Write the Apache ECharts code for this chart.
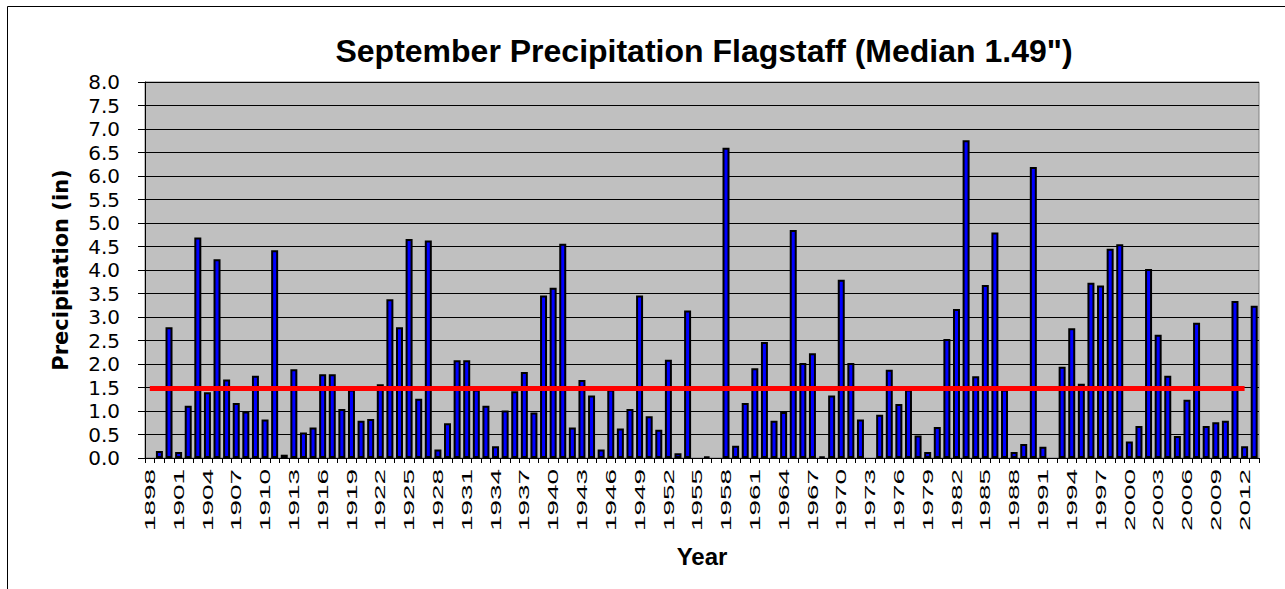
<!DOCTYPE html>
<html>
<head>
<meta charset="utf-8">
<title>September Precipitation Flagstaff</title>
<script src="https://cdn.jsdelivr.net/npm/echarts@6/dist/echarts.min.js"></script>
<style>
  html, body { margin: 0; padding: 0; background: #ffffff; }
  #chart { width: 1285px; height: 589px; }
</style>
</head>
<body>
<div id="chart"></div>
<script>
// Categories: one per year of record
const firstYear = 1898;
const lastYear = 2013;
const years = [];
for (let y = firstYear; y <= lastYear; y++) years.push(String(y));

// September precipitation, inches (null = no bar)
const precip = [
  null, 0.15, 2.78, 0.13, 1.11, 4.69, 1.40, 4.23, 1.67, 1.17,   // 1898-1907
  0.99, 1.75, 0.82, 4.42, 0.07, 1.89, 0.54, 0.65, 1.78, 1.78,   // 1908-1917
  1.04, 1.46, 0.79, 0.83, 1.57, 3.38, 2.78, 4.66, 1.26, 4.63,   // 1918-1927
  0.18, 0.74, 2.08, 2.08, 1.46, 1.11, 0.25, 1.01, 1.42, 1.83,   // 1928-1937
  0.97, 3.46, 3.62, 4.56, 0.65, 1.66, 1.33, 0.18, 1.46, 0.63,   // 1938-1947
  1.04, 3.46, 0.89, 0.60, 2.09, 0.10, 3.14, null, 0.03, null,   // 1948-1957
  6.60, 0.26, 1.17, 1.91, 2.47, 0.79, 0.98, 4.85, 2.02, 2.23,   // 1958-1967
  0.03, 1.33, 3.79, 2.02, 0.82, null, 0.92, 1.88, 1.15, 1.46,   // 1968-1977
  0.48, 0.13, 0.66, 2.53, 3.17, 6.76, 1.74, 3.68, 4.80, 1.46,   // 1978-1987
  0.13, 0.30, 6.19, 0.24, null, 1.94, 2.76, 1.58, 3.73, 3.67,   // 1988-1997
  4.45, 4.55, 0.35, 0.68, 4.02, 2.62, 1.75, 0.47, 1.24, 2.88,   // 1998-2007
  0.68, 0.76, 0.79, 3.34, 0.25, 3.24                            // 2008-2013
];

// Median of the record and the span the median line covers
const median = 1.49;
const medianFrom = '1898';
const medianTo = '2012';

// Year labels printed under the axis
const tickYears = [
  '1898', '1901', '1904', '1907', '1910', '1913', '1916', '1919', '1922', '1925',
  '1928', '1931', '1934', '1937', '1940', '1943', '1946', '1949', '1952', '1955',
  '1958', '1961', '1964', '1967', '1970', '1973', '1976', '1979', '1982', '1985',
  '1988', '1991', '1994', '1997', '2000', '2003', '2006', '2009', '2012'
];

const titleText = 'September Precipitation Flagstaff (Median 1.49")';

const chart = echarts.init(document.getElementById('chart'), null, { renderer: 'svg' });

chart.setOption({
  animation: false,
  backgroundColor: '#ffffff',
  grid: {
    left: 145, right: 26, top: 82, bottom: 131,
    show: true, backgroundColor: '#C0C0C0', borderColor: '#808080', borderWidth: 1
  },
  xAxis: {
    type: 'category',
    data: years,
    boundaryGap: true,
    axisLine: { show: true, lineStyle: { color: '#000000', width: 1 } },
    axisTick: { show: true, interval: 0, length: 5, lineStyle: { color: '#000000', width: 1 } },
    axisLabel: { show: false },
    splitLine: { show: false },
    name: 'Year',
    nameLocation: 'middle',
    nameGap: 86,
    nameTextStyle: { fontFamily: 'Liberation Sans', fontWeight: 'bold', fontSize: 24, color: '#000000' }
  },
  yAxis: {
    type: 'value',
    min: 0, max: 8, interval: 0.5,
    axisLine: { show: true, lineStyle: { color: '#000000', width: 1 } },
    axisTick: { show: true, length: 7, lineStyle: { color: '#000000', width: 1 } },
    axisLabel: {
      formatter: v => v.toFixed(1),
      fontFamily: 'DejaVu Sans', fontSize: 20, color: '#000000', margin: 25
    },
    splitLine: { show: true, lineStyle: { color: '#000000', width: 1 } },
    name: 'Precipitation (in)',
    nameLocation: 'middle',
    nameGap: 74,
    nameTextStyle: { fontFamily: 'DejaVu Sans', fontWeight: 'bold', fontSize: 21, color: '#000000' }
  },
  series: [{
    type: 'bar',
    data: precip,
    barWidth: 7,
    itemStyle: { color: '#0000FF', borderColor: '#000000', borderWidth: 2 },
    markLine: {
      silent: true,
      symbol: 'none',
      label: { show: false },
      lineStyle: { color: '#FF0000', width: 5, type: 'solid' },
      data: [[
        { coord: [years.indexOf(medianFrom), median] },
        { coord: [years.indexOf(medianTo), median] }
      ]]
    }
  }]
});

// Rotated year labels, placed at their category centres on the axis
const axisY = chart.convertToPixel({ yAxisIndex: 0 }, 0);
const yearLabels = tickYears.map(y => ({
  type: 'text',
  x: chart.convertToPixel({ xAxisIndex: 0 }, years.indexOf(y)),
  y: axisY + 11,
  rotation: Math.PI / 2,
  scaleX: 1.8,
  silent: true,
  style: {
    text: y,
    font: '15.5px "Liberation Sans"',
    fill: '#000000',
    align: 'right',
    verticalAlign: 'middle'
  }
}));

chart.setOption({
  graphic: [
    {
      type: 'rect',
      silent: true,
      z: -10,
      shape: { x: 7.5, y: 6.5, width: 1300, height: 700 },
      style: { fill: 'none', stroke: '#000000', lineWidth: 1 }
    },
    {
      type: 'text',
      silent: true,
      x: 704, y: 51,
      style: {
        text: titleText,
        font: 'bold 32px "Liberation Sans"',
        fill: '#000000',
        align: 'center',
        verticalAlign: 'middle'
      }
    }
  ].concat(yearLabels)
});
</script>
</body>
</html>
